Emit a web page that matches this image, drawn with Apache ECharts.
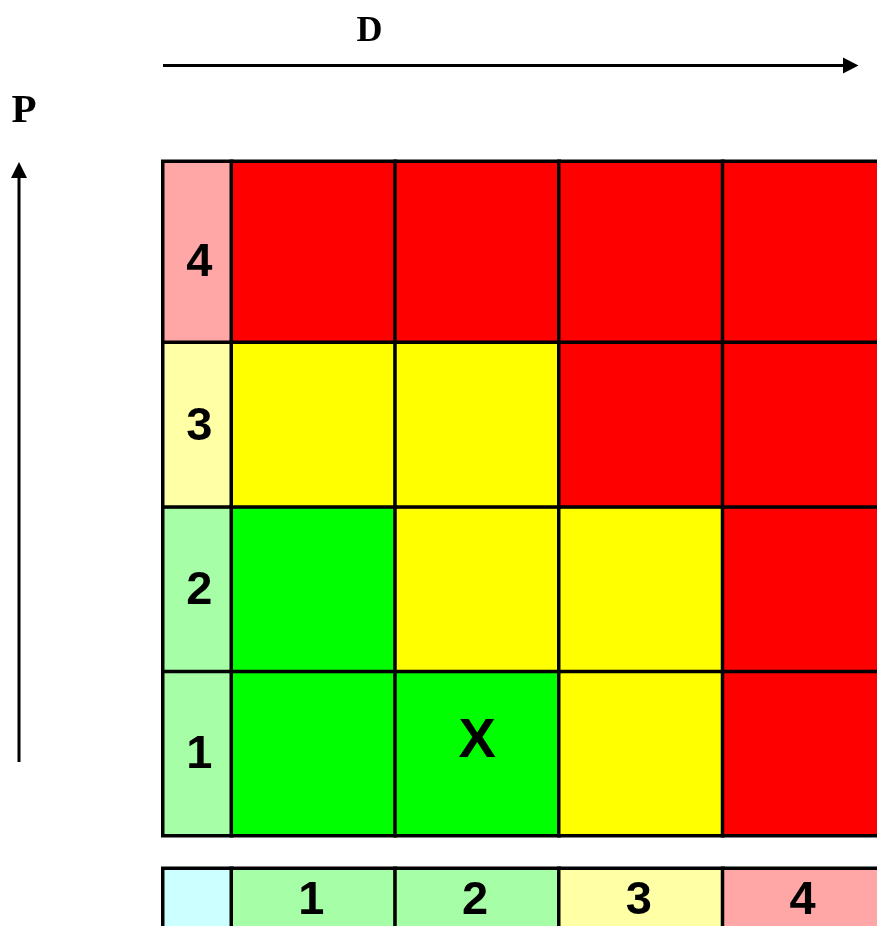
<!DOCTYPE html>
<html><head><meta charset="utf-8">
<script src="https://cdn.jsdelivr.net/npm/echarts@6/dist/echarts.min.js"></script>
<style>html,body{margin:0;padding:0;background:#fff}#chart{width:877px;height:926px}</style>
</head><body><div id="chart"></div>
<script>
// ---- data ----
const dCategories = ['1', '2', '3', '4'];
const pCategories = ['1', '2', '3', '4'];
// risk class per cell, one array per P row, ordered by D 1..4 (1 = low, 2 = medium, 3 = high)
const riskP1 = [1, 1, 2, 3];
const riskP2 = [1, 2, 2, 3];
const riskP3 = [2, 2, 3, 3];
const riskP4 = [3, 3, 3, 3];
// risk class of each level label 1..4 (used for the label column and the legend row)
const levelClass = [1, 1, 2, 3];
const blankClass = 0;
const markText = 'X';
const markD = '2';
const markP = '1';
const titleD = 'D';
const titleP = 'P';

// ---- styles ----
const vividColors = { 1: '#00FF00', 2: '#FFFF00', 3: '#FF0000' };
const pastelColors = { 0: '#CCFFFF', 1: '#A6FFA6', 2: '#FFFFA6', 3: '#FFA6A6' };
const labelFont = { fontFamily: '"Liberation Sans", Arial, sans-serif', fontWeight: 'bold', fontSize: 47, color: '#000', opacity: 1 };
const cellBorder = { borderColor: '#000', borderWidth: 3.5 };

const L = { labelLeft: 163, labelW: 68.5, colLeft: 231.5, colW: 655, top: 161.5, topH: 181, lowTop: 342.5, lowH: 493, legTop: 868.5, legH: 66 };

const topP = pCategories[pCategories.length - 1];
const lowP = pCategories.slice(0, pCategories.length - 1);
const riskRows = [riskP1, riskP2, riskP3, riskP4];

const gridBoxes = [
  { left: L.labelLeft, top: L.top, width: L.labelW, height: L.topH },
  { left: L.colLeft, top: L.top, width: L.colW, height: L.topH },
  { left: L.labelLeft, top: L.lowTop, width: L.labelW, height: L.lowH },
  { left: L.colLeft, top: L.lowTop, width: L.colW, height: L.lowH },
  { left: L.labelLeft, top: L.legTop, width: L.labelW, height: L.legH },
  { left: L.colLeft, top: L.legTop, width: L.colW, height: L.legH }
];
const grids = gridBoxes.map(g => Object.assign({ outerBoundsMode: 'none', containLabel: false }, g));
const xCats = [[''], dCategories, [''], dCategories, [''], dCategories];
const yCats = [[topP], [topP], lowP, lowP, [''], ['']];

const xAxes = xCats.map((c, i) => ({ type: 'category', gridIndex: i, data: c, show: false }));
const yAxes = yCats.map((c, i) => ({ type: 'category', gridIndex: i, data: c, show: false }));

function hm(idx, data, label) {
  return {
    type: 'heatmap', xAxisIndex: idx, yAxisIndex: idx, data: data,
    itemStyle: cellBorder, label: label || { show: false },
    emphasis: { disabled: true }, silent: true
  };
}

const series = [
  // 0: top label cell
  hm(0, [['', topP, levelClass[pCategories.indexOf(topP)]]],
     Object.assign({ show: true, formatter: p => p.value[1], offset: [2, 11] }, labelFont)),
  // 1: top risk row
  hm(1, dCategories.map((d, j) => [d, topP, riskRows[pCategories.indexOf(topP)][j]])),
  // 2: lower label column
  hm(2, lowP.map(p => ['', p, levelClass[pCategories.indexOf(p)]]),
     Object.assign({ show: true, formatter: p => p.value[1], offset: [2, 2] }, labelFont)),
  // 3: lower risk rows
  hm(3, lowP.flatMap(p => dCategories.map((d, j) => [d, p, riskRows[pCategories.indexOf(p)][j]]))),
  // 4: marker
  {
    type: 'scatter', xAxisIndex: 3, yAxisIndex: 3, data: [[markD, markP]],
    symbolSize: 0, itemStyle: { color: '#000', opacity: 1 }, silent: true,
    label: Object.assign({ show: true, position: 'inside', formatter: () => markText, offset: [0, -12] }, labelFont, { fontSize: 56 })
  },
  // 5: legend blank cell
  hm(4, [['', '', blankClass]]),
  // 6: legend row
  hm(5, dCategories.map((d, j) => [d, '', levelClass[j]]),
     Object.assign({ show: true, formatter: p => p.value[0], offset: [-2, 0] }, labelFont))
];

const option = {
  animation: false,
  backgroundColor: '#fff',
  grid: grids,
  xAxis: xAxes,
  yAxis: yAxes,
  visualMap: [
    { type: 'piecewise', show: false, seriesIndex: [1, 3], dimension: 2,
      pieces: Object.keys(vividColors).map(k => ({ value: +k, color: vividColors[k] })) },
    { type: 'piecewise', show: false, seriesIndex: [0, 2, 5, 6], dimension: 2,
      pieces: Object.keys(pastelColors).map(k => ({ value: +k, color: pastelColors[k] })) }
  ],
  series: series,
  graphic: [
    { type: 'text', x: 369.5, y: 32, style: { text: titleD, font: 'bold 36px "Liberation Serif", "Times New Roman", serif', fill: '#000', align: 'center', verticalAlign: 'middle' } },
    { type: 'text', x: 24, y: 111.5, style: { text: titleP, font: 'bold 41px "Liberation Serif", "Times New Roman", serif', fill: '#000', align: 'center', verticalAlign: 'middle' } },
    { type: 'line', shape: { x1: 163, y1: 65.5, x2: 845, y2: 65.5 }, style: { stroke: '#000', lineWidth: 3 } },
    { type: 'polygon', shape: { points: [[843, 57.5], [858.5, 65.5], [843, 73.5]] }, style: { fill: '#000' } },
    { type: 'line', shape: { x1: 19, y1: 176, x2: 19, y2: 762 }, style: { stroke: '#000', lineWidth: 3 } },
    { type: 'polygon', shape: { points: [[11, 178], [19, 162], [27, 178]] }, style: { fill: '#000' } }
  ]
};

const chart = echarts.init(document.getElementById('chart'), null, { renderer: 'canvas' });
chart.setOption(option);
</script>
</body></html>
